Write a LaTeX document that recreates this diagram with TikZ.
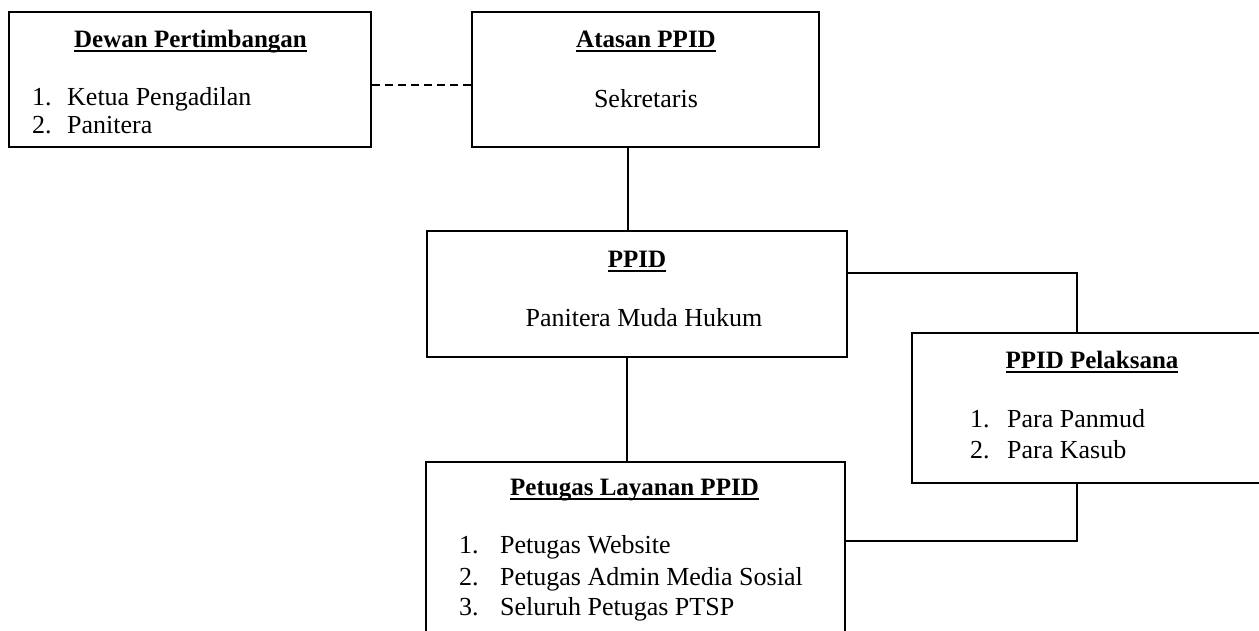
\documentclass[tikz,border=0pt]{standalone}
\usepackage{fontspec}
\setmainfont{Liberation Serif}
\newcommand\ulx[1]{\setbox0\hbox{#1}\rlap{\rule[-4.5pt]{\wd0}{1.6pt}}\box0}
\begin{document}
\begin{tikzpicture}[x=1pt,y=-1pt,
  box/.style={draw=black,line width=2.8pt,fill=none,inner sep=0pt},
  conn/.style={draw=black,line width=2pt},
  ttl/.style={inner sep=0pt,anchor=base,font=\fontsize{25}{30}\selectfont\bfseries},
  tms/.style={inner sep=0pt,font=\fontsize{26}{30}\selectfont},
  cmb/.style={inner sep=0pt,font=\fontsize{26}{30}\selectfont}]
\clip (0,0) rectangle (1259,630);
\fill[white] (0,0) rectangle (1259,630);
% boxes
\node[box,minimum width=362pt,minimum height=135pt] (dewan) at (190,79.5) {};
\node[box,minimum width=347pt,minimum height=135pt] (atasan) at (645.5,79.5) {};
\node[box,minimum width=420pt,minimum height=126pt] (ppid) at (637,294) {};
\node[box,minimum width=360pt,minimum height=150pt] (pel) at (1092,408) {};
\node[box,minimum width=419pt,minimum height=188pt] (pet) at (635.5,556) {};
% helper coordinates
\coordinate (dy) at (0,85);
\coordinate (vx) at (628,0);
\coordinate (vx2) at (627,0);
\coordinate (ry) at (0,273);
\coordinate (rx) at (1077,0);
\coordinate (by) at (0,541);
% connectors
\draw[conn,line width=2.2pt,dash pattern=on 8pt off 5pt] (dewan.east |- dy) -- (atasan.west |- dy);
\draw[conn] (atasan.south -| vx) -- (ppid.north -| vx);
\draw[conn] (ppid.south -| vx2) -- (pet.north -| vx2);
\draw[conn] (ppid.east |- ry) -| (pel.north -| rx);
\draw[conn] (pel.south -| rx) |- (pet.east |- by);
% Dewan
\node[ttl] (t1) at (190.5,47.5) {\ulx{Dewan Pertimbangan}};
\node[tms,anchor=base west] (d1n) at (32,105) {1.};
\node[tms,anchor=base west] (d1) at (67,105) {Ketua Pengadilan};
\node[tms,anchor=base west] (d2n) at (32,133) {2.};
\node[tms,anchor=base west] (d2) at (67,133) {Panitera};
% Atasan
\node[ttl] (t2) at (646,47) {\ulx{Atasan PPID}};
\node[tms,anchor=base] (a1) at (646,107) {Sekretaris};
% PPID
\node[ttl] (t3) at (637,267) {\ulx{PPID}};
\node[cmb,anchor=base] (p1) at (644,326) {Panitera Muda Hukum};
% Pelaksana
\node[ttl] (t4) at (1092,368) {\ulx{PPID Pelaksana}};
\node[tms,anchor=base west] (l1n) at (970,427) {1.};
\node[tms,anchor=base west] (l1) at (1007,427) {Para Panmud};
\node[tms,anchor=base west] (l2n) at (970,458) {2.};
\node[tms,anchor=base west] (l2) at (1007,458) {Para Kasub};
% Petugas
\node[ttl] (t5) at (634.5,495) {\ulx{Petugas Layanan PPID}};
\node[cmb,anchor=base west] (s1n) at (459,553) {1.};
\node[cmb,anchor=base west] (s1) at (500,553) {Petugas Website};
\node[cmb,anchor=base west] (s2n) at (459,585) {2.};
\node[cmb,anchor=base west] (s2) at (500,585) {Petugas Admin Media Sosial};
\node[cmb,anchor=base west] (s3n) at (459,615) {3.};
\node[cmb,anchor=base west] (s3) at (500,615) {Seluruh Petugas PTSP};
\end{tikzpicture}
\end{document}
